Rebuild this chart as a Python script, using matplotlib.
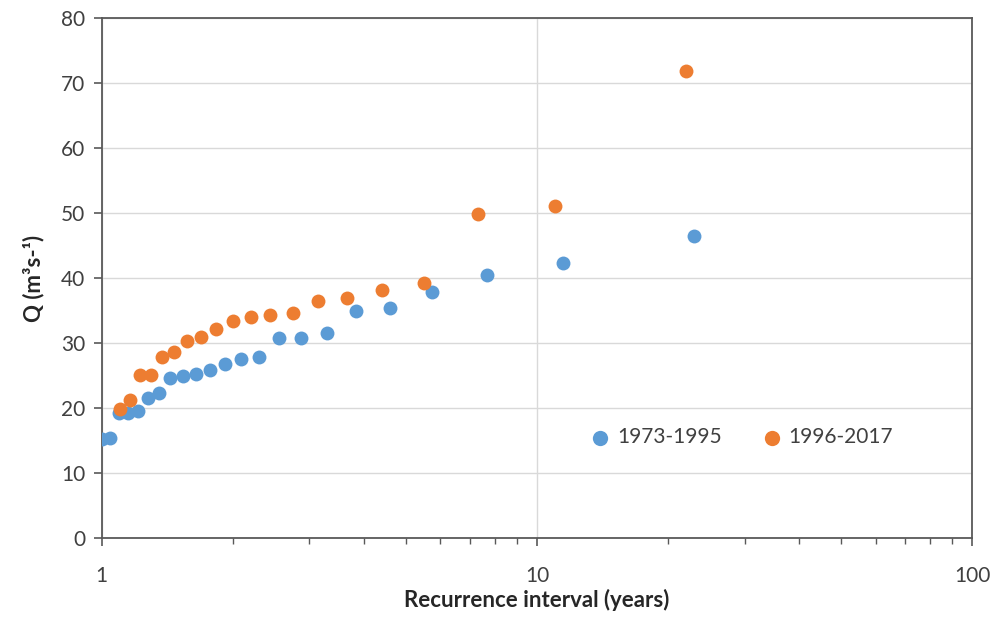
import matplotlib
matplotlib.use("Agg")
import matplotlib.pyplot as plt
from matplotlib.ticker import FixedLocator, NullFormatter, LogLocator

plt.rcParams['font.family'] = ['Lato', 'DejaVu Sans']

# 1973-1995 series
t_1973 = [23.0, 11.5, 7.67, 5.75, 4.6, 3.83, 3.29, 2.875, 2.56, 2.3, 2.09, 1.917,
          1.77, 1.643, 1.533, 1.4375, 1.353, 1.278, 1.21, 1.15, 1.095, 1.045, 1.0]
q_1973 = [46.4, 42.3, 40.5, 37.9, 35.4, 34.9, 31.6, 30.7, 30.7, 27.8, 27.6, 26.8,
          25.8, 25.3, 24.9, 24.6, 22.3, 21.5, 19.5, 19.3, 19.3, 15.4, 15.25]

# 1996-2017 series
t_1996 = [22.0, 11.0, 7.33, 5.5, 4.4, 3.67, 3.14, 2.75, 2.44, 2.2, 2.0, 1.833,
          1.692, 1.571, 1.467, 1.375, 1.294, 1.222, 1.158, 1.1]
q_1996 = [71.8, 51.0, 49.9, 39.3, 38.2, 36.9, 36.5, 34.6, 34.3, 34.0, 33.4, 32.1,
          30.9, 30.3, 28.6, 27.9, 25.1, 25.0, 21.2, 19.9]

labels = ["1973-1995", "1996-2017"]
colors = ["#5B9BD5", "#ED7D31"]

fig = plt.figure(figsize=(9.98, 6.21), dpi=100)
ax = fig.add_axes([0.102, 0.1337, 0.872, 0.8373])

ax.scatter(t_1973, q_1973, s=100, color=colors[0], label=labels[0], zorder=3, linewidths=0)
ax.scatter(t_1996, q_1996, s=100, color=colors[1], label=labels[1], zorder=4, linewidths=0)

ax.set_xscale('log')
ax.set_xlim(1, 100)
ax.set_ylim(0, 80)
ax.set_yticks(range(0, 81, 10))
ax.xaxis.set_major_locator(FixedLocator([1, 10, 100]))
ax.set_xticklabels(["1", "10", "100"])
ax.xaxis.set_minor_locator(LogLocator(base=10, subs=range(2, 10)))
ax.xaxis.set_minor_formatter(NullFormatter())

ax.grid(True, which='major', axis='both', color='#D9D9D9', linewidth=1.0, zorder=0)
ax.set_axisbelow(True)

spine_color = '#595959'
for sp in ax.spines.values():
    sp.set_color(spine_color)
    sp.set_linewidth(1.3)

ax.tick_params(axis='both', which='major', direction='out', length=6, width=1.2,
               color=spine_color, labelsize=15, labelcolor='#404040', pad=6)
ax.tick_params(axis='x', which='minor', direction='out', length=4, width=1.0,
               color=spine_color)
ax.tick_params(axis='x', which='major', pad=14)

ax.set_xlabel("Recurrence interval (years)", fontsize=16, fontweight='bold',
              color='#262626', labelpad=2)
ax.set_ylabel("Q (m³s-¹)", fontsize=16, fontweight='bold', color='#262626',
              labelpad=12)

leg = ax.legend(loc='center', bbox_to_anchor=(0.735, 0.194), ncol=2, frameon=False,
                fontsize=15, handlelength=1.0, handletextpad=0.3, columnspacing=1.9,
                markerscale=1.1)
for t in leg.get_texts():
    t.set_color('#404040')

fig.savefig("out.png", dpi=100, facecolor='white')
